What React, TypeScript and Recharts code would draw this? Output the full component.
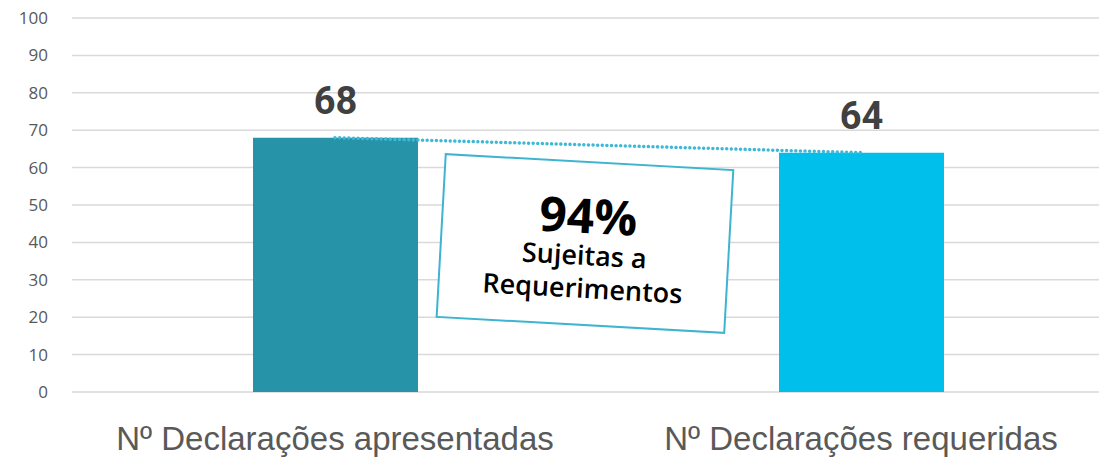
import { Bar, CartesianGrid, Cell, ComposedChart, Customized, LabelList, Line, XAxis, YAxis } from "recharts"

// Declarações: apresentadas vs requeridas
const categories = ["Nº Declarações apresentadas", "Nº Declarações requeridas"]
const declarations = [68, 64]
const barColors = ["#2793A8", "#00BFEA"]
const yTicks = [0, 10, 20, 30, 40, 50, 60, 70, 80, 90, 100]

const chartData = categories.map((name, i) => ({ name, value: declarations[i] }))

const share = Math.round((declarations[1] / declarations[0]) * 100)

function ShareBox() {
  return (
    <g transform="translate(585 243) rotate(3.2)">
      <rect x={-144} y={-81} width={288} height={163} fill="#fff" stroke="#3DB5D0" strokeWidth={2} />
      <text
        x={2}
        y={-10}
        textAnchor="middle"
        fontFamily="'Open Sans', sans-serif"
        fontWeight={700}
        fontSize={48}
        fill="#000"
      >
        {share}%
      </text>
      <text
        x={0}
        y={22}
        textAnchor="middle"
        fontFamily="'Open Sans', sans-serif"
        fontWeight={600}
        fontSize={27}
        fill="#000"
      >
        Sujeitas a
      </text>
      <text
        x={0}
        y={55}
        textAnchor="middle"
        fontFamily="'Open Sans', sans-serif"
        fontWeight={600}
        fontSize={27}
        fill="#000"
      >
        Requerimentos
      </text>
    </g>
  )
}

export default function App() {
  return (
    <div style={{ position: "absolute", left: 0, top: 0, width: 1099, height: 458, overflow: "hidden", background: "#fff" }}>
      <ComposedChart width={1130} height={458} data={chartData} margin={{ top: 18, right: 6, left: 0, bottom: 0 }}>
        <CartesianGrid vertical={false} stroke="#D9D9D9" strokeWidth={1.5} />
        <XAxis
          dataKey="name"
          height={66}
          axisLine={false}
          tickLine={false}
          tickMargin={29}
          interval={0}
          tick={{ fontFamily: "'Liberation Sans', sans-serif", fontSize: 33, fill: "#595959" }}
        />
        <YAxis
          width={72}
          domain={[0, 100]}
          ticks={yTicks}
          axisLine={false}
          tickLine={false}
          tickMargin={18}
          tick={{ fontFamily: "'Open Sans', sans-serif", fontSize: 17, fill: "#595959" }}
        />
        <Bar dataKey="value" barSize={165} isAnimationActive={false}>
          {chartData.map((d, i) => (
            <Cell key={d.name} fill={barColors[i]} />
          ))}
          <LabelList
            dataKey="value"
            position="top"
            offset={24}
            fill="#404040"
            fontFamily="Roboto, sans-serif"
            fontWeight={700}
            fontSize={38}
          />
        </Bar>
        <Line
          dataKey="value"
          type="linear"
          stroke="#3DB8D6"
          strokeWidth={3.5}
          strokeDasharray="0.01 4.6"
          strokeLinecap="round"
          dot={false}
          activeDot={false}
          isAnimationActive={false}
        />
        <Customized component={ShareBox} />
      </ComposedChart>
    </div>
  )
}
